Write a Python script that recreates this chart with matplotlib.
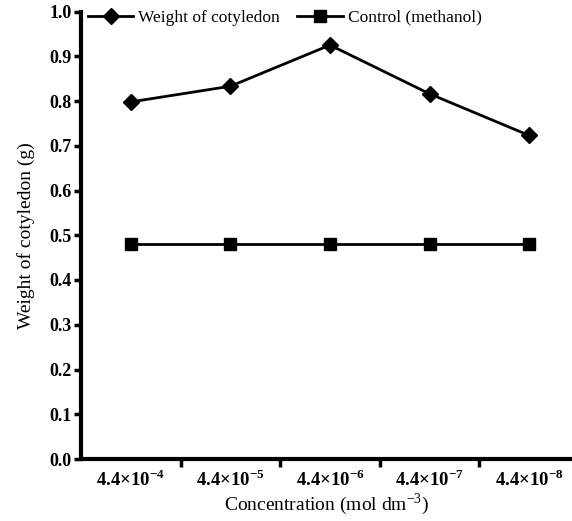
import matplotlib
matplotlib.use("Agg")
import matplotlib.pyplot as plt

plt.rcParams['font.family'] = ['Liberation Serif', 'DejaVu Serif']
plt.rcParams['mathtext.fontset'] = 'custom'
plt.rcParams['mathtext.rm'] = 'Liberation Serif'
plt.rcParams['mathtext.bf'] = 'Liberation Serif:bold'

concentrations = ["4.4×10$^{\\mathbf{-4}}$", "4.4×10$^{\\mathbf{-5}}$", "4.4×10$^{\\mathbf{-6}}$",
                  "4.4×10$^{\\mathbf{-7}}$", "4.4×10$^{\\mathbf{-8}}$"]
cotyledon_weight = [0.798, 0.833, 0.925, 0.816, 0.723]
control_weight = [0.48, 0.48, 0.48, 0.48, 0.48]
y_ticks = [0.0, 0.1, 0.2, 0.3, 0.4, 0.5, 0.6, 0.7, 0.8, 0.9, 1.0]

W, H = 572, 521
fig = plt.figure(figsize=(W / 100, H / 100), dpi=100)
left, right, top, bottom = 81, 572, 11.5, 459
ax = fig.add_axes([left / W, (H - bottom) / H, (right - left) / W, (bottom - top) / H])

x = list(range(len(concentrations)))
ax.plot(x, cotyledon_weight, color='black', lw=2, marker='D', ms=8.5,
        label='Weight of cotyledon')
ax.plot(x, control_weight, color='black', lw=2, marker='s', ms=8.5,
        label='Control (methanol)')

ax.set_xlim(-0.5, -0.5 + (right - left) / 99.6)
ax.set_ylim(0, 1.0)
ax.set_yticks(y_ticks)
ax.set_yticklabels([f"{v:.1f}" for v in y_ticks], fontsize=13, fontweight='bold')

ax.set_xticks([i + 0.5 for i in range(len(concentrations) - 1)])
ax.set_xticklabels([])
ax.set_xticks(x, minor=True)
ax.set_xticklabels(concentrations, minor=True, fontsize=13.5, fontweight='bold')
ax.tick_params(axis='x', which='minor', length=0, pad=7)
ax.tick_params(axis='x', which='major', length=6, width=2.5, direction='out')
ax.tick_params(axis='y', length=5, width=2.5, direction='out', pad=2)

for s in ['top', 'right']:
    ax.spines[s].set_visible(False)
for s in ['left', 'bottom']:
    ax.spines[s].set_linewidth(3)

ax.set_xlabel('Concentration (mol dm$^{-3}$)', fontsize=14, labelpad=1)
ax.set_ylabel('Weight of cotyledon (g)', fontsize=14, labelpad=10)

ax.legend(loc='upper left', bbox_to_anchor=(0.0, 1.02), ncol=2, frameon=False,
          fontsize=12.5, handlelength=2.6, columnspacing=1.0, handletextpad=0.3,
          borderaxespad=0.0, borderpad=0.4)

fig.savefig('out.png', dpi=100)
